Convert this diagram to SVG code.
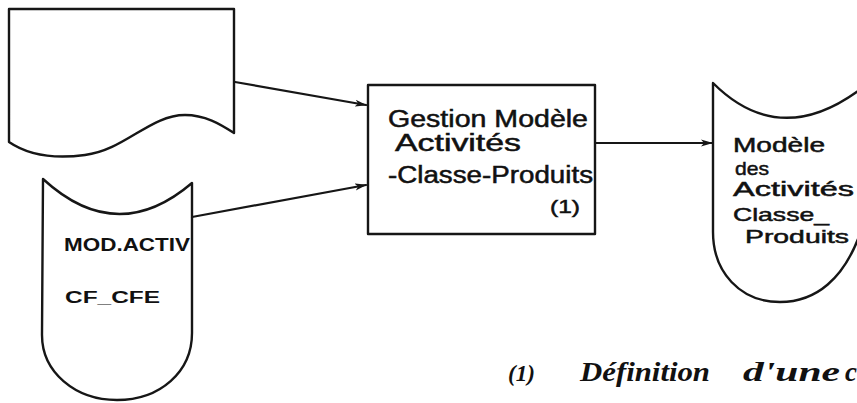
<svg xmlns="http://www.w3.org/2000/svg" width="857" height="403" viewBox="0 0 857 403">
<style>
.shape{fill:none;stroke:#161616;stroke-width:2.4;stroke-linejoin:round;stroke-linecap:round}
.conn{fill:none;stroke:#161616;stroke-width:2.2;stroke-linecap:round}
.hand{font-family:"Liberation Sans","DejaVu Sans",sans-serif;fill:#111;font-weight:normal;stroke:#111;stroke-width:0.5}
.bold{font-weight:bold;stroke-width:0}
.note{font-family:"Liberation Serif","DejaVu Serif",serif;font-style:italic;fill:#111;font-weight:bold}
</style>
<defs>
<marker id="arr" viewBox="0 0 12 8" refX="11" refY="4" markerWidth="12" markerHeight="8" markerUnits="userSpaceOnUse" orient="auto">
<path d="M0,0.5 L12,4 L0,7.5 L3,4 Z" fill="#161616"/>
</marker>
</defs>
<rect width="857" height="403" fill="#ffffff"/>
<g id="doc-source">
<path class="shape" d="M9,142 L9,9 L234,9 L234,133 C220,124 205,115 185,115 C150,115 125,150 85,155 C55,159 28,155 9,142 Z"/>
</g>
<g id="mod-activ">
<path class="shape" d="M43,179 Q117,247 192,183 L192,333 C192,372 160,400 117,400 C75,400 42,372 42,335 Z"/>
<text class="hand bold" x="64" y="251" font-size="19" textLength="126" lengthAdjust="spacingAndGlyphs">MOD.ACTIV</text>
<text class="hand bold" x="65" y="303" font-size="16" textLength="95" lengthAdjust="spacingAndGlyphs">CF_CFE</text>
</g>
<g id="gestion">
<rect class="shape" x="368" y="85" width="227" height="149"/>
<text class="hand" x="388" y="127" font-size="23" textLength="200" lengthAdjust="spacingAndGlyphs">Gestion Modèle</text>
<text class="hand" x="395" y="151" font-size="23" textLength="126" lengthAdjust="spacingAndGlyphs">Activités</text>
<text class="hand" x="388" y="183" font-size="23" textLength="205" lengthAdjust="spacingAndGlyphs">-Classe-Produits</text>
<text class="hand" x="550" y="213" font-size="19" textLength="30" lengthAdjust="spacingAndGlyphs">(1)</text>
</g>
<g id="modele-activites">
<path class="shape" d="M713,83 Q780,150 862,88 L862,228 C845,280 815,302 780,302 C740,302 713,272 713,232 Z"/>
<text class="hand" x="733" y="152" font-size="20" textLength="92" lengthAdjust="spacingAndGlyphs">Modèle</text>
<text class="hand" x="735" y="175" font-size="19" textLength="34" lengthAdjust="spacingAndGlyphs">des</text>
<text class="hand" x="733" y="196" font-size="20" textLength="121" lengthAdjust="spacingAndGlyphs">Activités</text>
<text class="hand" x="733" y="221" font-size="19" textLength="96" lengthAdjust="spacingAndGlyphs">Classe_</text>
<text class="hand" x="745" y="243" font-size="19" textLength="104" lengthAdjust="spacingAndGlyphs">Produits</text>
</g>
<g id="connectors">
<path class="conn" d="M235,82 L366,105" marker-end="url(#arr)"/>
<path class="conn" d="M192,217 L366,185" marker-end="url(#arr)"/>
<path class="conn" d="M595,143 L712,143" marker-end="url(#arr)"/>
</g>
<g id="footnote">
<text class="note" x="508" y="381" font-size="24" textLength="27" lengthAdjust="spacingAndGlyphs">(1)</text>
<text class="note" x="580" y="381" font-size="27" textLength="130" lengthAdjust="spacingAndGlyphs">Définition</text>
<text class="note" x="743" y="381" font-size="27" textLength="97" lengthAdjust="spacingAndGlyphs">d'une</text>
<text class="note" x="845" y="381" font-size="27">c</text>
</g>
</svg>
